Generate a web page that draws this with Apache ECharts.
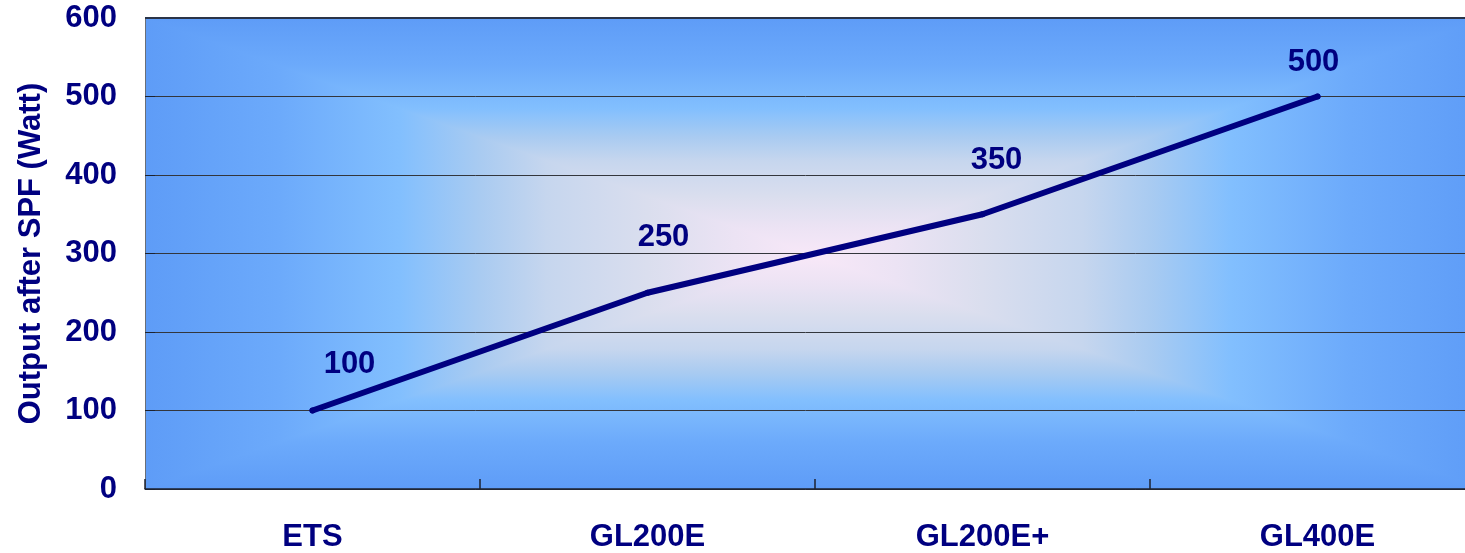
<!DOCTYPE html>
<html>
<head>
<meta charset="utf-8">
<script src="https://cdn.jsdelivr.net/npm/echarts@6/dist/echarts.min.js"></script>
<style>
  html, body { margin: 0; padding: 0; background: #ffffff; overflow: hidden; }
  #chart { width: 1465px; height: 553px; }
</style>
</head>
<body>
<div id="chart"></div>
<script>
// Models and their output power after SPF
const models = ['ETS', 'GL200E', 'GL200E+', 'GL400E'];
const outputWatts = [100, 250, 350, 500];
const yTicks = [0, 100, 200, 300, 400, 500, 600];

// Hand-placed nudges for the value labels (pixels, relative to each point)
const labelShift = [[37, -46], [16, -55], [14, -54], [-4, -34]];

const NAVY = '#000080';
const FONT = "'Liberation Sans', Arial, Helvetica, sans-serif";

// Plot box geometry (the plot runs slightly past the right edge of the canvas)
const PLOT = { left: 145, top: 18, width: 1340, height: 471 };
const x0 = PLOT.left, x1 = PLOT.left + PLOT.width;
const y0 = PLOT.top, y1 = PLOT.top + PLOT.height;
const cx = x0 + PLOT.width / 2, cy = 256;

// "From centre" fill: colour by normalised distance t (0 centre .. 1 edge)
const ramp = [
  [0.00, '#f8e8f8'],
  [0.12, '#ece3f4'],
  [0.25, '#dadeee'],
  [0.40, '#c6d6ee'],
  [0.50, '#a9cbf1'],
  [0.62, '#82bffe'],
  [0.80, '#6caafb'],
  [1.00, '#5e9cf7']
];
function stopsEdgeToCentre() {
  return ramp.slice().reverse().map(([t, c]) => ({ offset: 1 - t, color: c }));
}
function stopsSymmetric(centreFrac) {
  const s = [];
  ramp.slice().reverse().forEach(([t, c]) => s.push({ offset: centreFrac * (1 - t), color: c }));
  ramp.forEach(([t, c]) => s.push({ offset: centreFrac + (1 - centreFrac) * t, color: c }));
  return s;
}
const grad = (gx, gy, gx2, gy2, stops) => ({
  type: 'linear', x: gx, y: gy, x2: gx2, y2: gy2, global: true, colorStops: stops
});

const background = [
  { // left / right sides
    type: 'rect', z: -5, silent: true,
    shape: { x: x0, y: y0, width: PLOT.width, height: PLOT.height },
    style: { fill: grad(x0, 0, x1, 0, stopsSymmetric(0.5)) }
  },
  { // top wedge
    type: 'polygon', z: -4, silent: true,
    shape: { points: [[x0, y0], [x1, y0], [cx, cy]] },
    style: { fill: grad(0, y0, 0, cy, stopsEdgeToCentre()) }
  },
  { // bottom wedge
    type: 'polygon', z: -4, silent: true,
    shape: { points: [[x0, y1], [x1, y1], [cx, cy]] },
    style: { fill: grad(0, y1, 0, cy, stopsEdgeToCentre()) }
  },
  { // heavier frame line along the top
    type: 'line', z: 3, silent: true,
    shape: { x1: x0, y1: y0, x2: x1, y2: y0 },
    style: { stroke: '#2a3448', lineWidth: 2 }
  }
];

const chart = echarts.init(document.getElementById('chart'), null, { renderer: 'canvas' });

chart.setOption({
  animation: false,
  backgroundColor: '#ffffff',
  textStyle: { fontFamily: FONT },
  graphic: background,
  grid: {
    left: PLOT.left, top: PLOT.top, width: PLOT.width, height: PLOT.height,
    containLabel: false,
    outerBoundsMode: 'none'
  },
  xAxis: {
    type: 'category',
    data: models,
    boundaryGap: true,
    axisLine: { show: true, lineStyle: { color: '#1c2230', width: 1.5 } },
    axisTick: { show: true, inside: true, length: 10, lineStyle: { color: '#1c2230', width: 1.5 } },
    axisLabel: {
      margin: 33,
      color: NAVY, fontWeight: 'bold', fontSize: 31, fontFamily: FONT
    },
    splitLine: { show: false }
  },
  yAxis: {
    type: 'value',
    min: yTicks[0], max: yTicks[yTicks.length - 1], interval: 100,
    name: 'Output after SPF (Watt)',
    nameLocation: 'middle',
    nameGap: 98,
    nameTextStyle: { color: NAVY, fontWeight: 'bold', fontSize: 31, fontFamily: FONT },
    axisLine: { show: true, lineStyle: { color: '#6a6f78', width: 1 } },
    axisTick: { show: true, inside: true, length: 10, lineStyle: { color: '#1c2230', width: 1 } },
    axisLabel: {
      margin: 28,
      color: NAVY, fontWeight: 'bold', fontSize: 31, fontFamily: FONT
    },
    splitLine: { show: true, lineStyle: { color: '#33363c', width: 1 } }
  },
  series: [{
    type: 'line',
    data: outputWatts.map((v, i) => ({
      value: v,
      label: { offset: labelShift[i] }
    })),
    symbol: 'circle',
    symbolSize: 6,
    itemStyle: { color: NAVY },
    lineStyle: { color: NAVY, width: 6, cap: 'round', join: 'round' },
    label: {
      show: true,
      position: 'inside',
      color: NAVY, fontWeight: 'bold', fontSize: 31, fontFamily: FONT
    },
    z: 5
  }]
});
</script>
</body>
</html>
